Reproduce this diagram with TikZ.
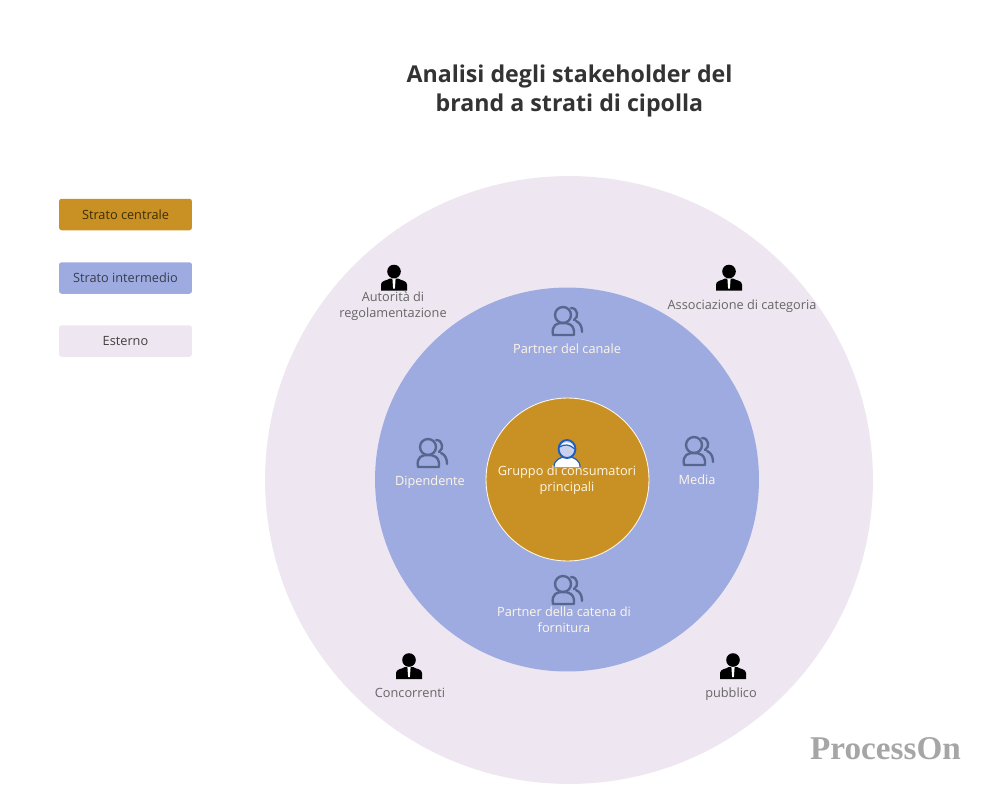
\documentclass[tikz,border=0pt]{standalone}
\usepackage{fontspec}
\setmainfont{Open Sans}
\newfontfamily\markfont{Liberation Serif}
\definecolor{goldfill}{HTML}{C99123}
\definecolor{midfill}{HTML}{9EABE0}
\definecolor{outfill}{HTML}{EEE6F0}
\definecolor{greytext}{HTML}{666666}
\definecolor{creamtext}{HTML}{FFF6E6}
\definecolor{groupline}{HTML}{56678F}
\definecolor{userline}{HTML}{1F5FBF}
\tikzset{
    label/.style={font=\fontsize{7.25}{9}\selectfont,align=center,inner sep=0pt},
    legendbox/.style={rounded corners=1.5pt,minimum width=2.66cm,minimum height=0.63cm,inner sep=0pt,font=\fontsize{7.25}{9}\selectfont},
    ring/.style={circle,inner sep=0pt},
    person/.pic={
        \fill[black] (0,-6) circle (6.8);
        \fill[black] (-13,13) -- (-13,7) .. controls (-13,3) and (-7,3) .. (-4,1) -- (4,1) .. controls (7,3) and (13,3) .. (13,7) -- (13,13) -- cycle;
        \fill[white] (-1.6,1) -- (1.6,1) -- (0.9,11) -- (-0.9,11) -- cycle;
    },
    people/.pic={
        \draw[groupline,line width=1.35pt,fill=none] (-4,-6) circle (8);
        \draw[groupline,line width=1.35pt,line join=round] (-14,14) .. controls (-16,3) and (-9,2) .. (-4,2) .. controls (1,2) and (8,3) .. (7,14) -- cycle;
        \draw[groupline,line width=1.35pt,line cap=round] (4,-13) .. controls (11,-13) and (12,-4) .. (7,-1);
        \draw[groupline,line width=1.35pt,line cap=round] (9,0) .. controls (14,2) and (15,7) .. (15,11);
    },
    customer/.pic={
        \fill[white] (-13,14) .. controls (-13,7) and (-7,5) .. (-4,4) -- (4,4) .. controls (7,5) and (13,7) .. (13,14) -- cycle;
        \draw[userline,line width=0.7pt] (-13,14) .. controls (-13,7) and (-7,5) .. (-4,4);
        \draw[userline,line width=0.7pt] (4,4) .. controls (7,5) and (13,7) .. (13,14);
        \draw[userline,line width=1.1pt,fill=midfill!55!white] (0,-4) ellipse (8.4 and 9);
        \fill[white] (-7,-6) .. controls (-5,-12) and (4,-13) .. (7.4,-5) .. controls (3,-9) and (-2,-9) .. (-7,-6) -- cycle;
        \draw[userline,line width=0.7pt] (-7.5,-6) .. controls (-3,-9) and (3,-9) .. (7.6,-4);
    }
}
\begin{document}
\begin{tikzpicture}[x=0.02cm,y=-0.02cm]
    \useasboundingbox (0,0) rectangle (1000,808);

    % onion layers
    \node[ring,fill=outfill,minimum size=12.16cm] (outer) at (569,480) {};
    \node[ring,fill=midfill,minimum size=7.68cm] (middle) at (567,479.5) {};
    \node[ring,fill=goldfill,draw=creamtext,line width=0.5pt,minimum size=3.26cm] (core) at (567.5,479.5) {};

    % title
    \node[font=\fontsize{13.2}{16}\selectfont\bfseries,align=center,text=black!80,inner sep=0pt] (title) at (569.5,91) {Analisi degli stakeholder del\\brand a strati di cipolla};

    % legend
    \node[legendbox,fill=goldfill,text=black!70!goldfill] (legendcore) at (125.5,214.5) {Strato centrale};
    \node[legendbox,fill=midfill,text=black!65!midfill] (legendmid) at (125.5,278) {Strato intermedio};
    \node[legendbox,fill=outfill,text=black!75] (legendout) at (125.5,341) {Esterno};

    % outer layer
    \pic at (394,277.5) {person};
    \pic at (729,277.5) {person};
    \pic at (409,666) {person};
    \pic at (733,666) {person};
    \node[label,text=greytext] (authority) at (393,306.5) {Autorità di\\regolamentazione};
    \node[label,text=greytext] (association) at (742,306) {Associazione di categoria};
    \node[label,text=greytext] (rivals) at (410,692.5) {Concorrenti};
    \node[label,text=greytext] (public) at (731,694.5) {pubblico};

    % middle layer
    \pic at (567,321) {people};
    \pic at (432,453) {people};
    \pic at (698,451) {people};
    \pic at (567,590) {people};
    \node[label,text=creamtext] (channel) at (567,349) {Partner del canale};
    \node[label,text=creamtext] (staff) at (430,482) {Dipendente};
    \node[label,text=creamtext] (media) at (697,480) {Media};
    \node[label,text=creamtext] (supply) at (564,620) {Partner della catena di\\fornitura};

    % core
    \pic at (567,453) {customer};
    \node[label,text=creamtext] (consumers) at (567,480) {Gruppo di consumatori\\principali};

    % watermark
    \node[font=\markfont\fontsize{18.9}{22}\selectfont\bfseries,text=black!35,inner sep=0pt] (mark) at (885.5,749) {ProcessOn};
\end{tikzpicture}
\end{document}
